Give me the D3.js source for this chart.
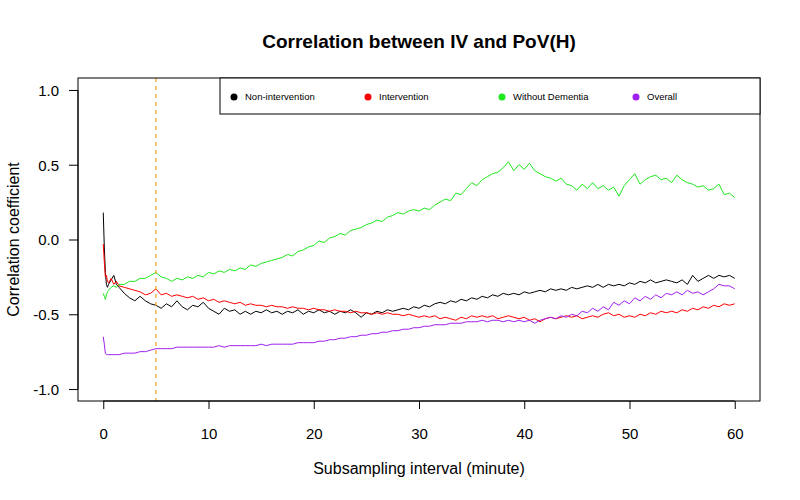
<!DOCTYPE html>
<html>
<head>
<meta charset="utf-8">
<script src="https://cdn.jsdelivr.net/npm/d3@7/dist/d3.min.js"></script>
<style>
  html, body { margin: 0; padding: 0; background: #fff; }
  svg { display: block; font-family: "Liberation Sans", Arial, Helvetica, sans-serif; }
</style>
</head>
<body>
<svg id="chart" width="800" height="500"></svg>
<script>
// ---------------- data ----------------
const chartTitle = "Correlation between IV and PoV(H)";
const xLabel = "Subsampling interval (minute)";
const yLabel = "Correlation coefficient";
const xTicks = [0, 10, 20, 30, 40, 50, 60];
const yTicks = [-1.0, -0.5, 0.0, 0.5, 1.0];
const cutoffInterval = 5;

const seriesNames = ["Non-intervention", "Intervention", "Without Dementia", "Overall"];
const seriesColors = ["#000000", "#ff0000", "#1ee81e", "#a020f0"];

const intervals = [0, 0.1, 0.2, 0.3, 0.4, 0.5, 0.75, 1, 1.25, 1.5,
  2, 2.5, 3, 3.5, 4, 4.5, 5, 5.5, 6, 6.5, 7, 7.5, 8, 8.5, 9, 9.5,
  10, 10.5, 11, 11.5, 12, 12.5, 13, 13.5, 14, 14.5, 15, 15.5, 16, 16.5, 17, 17.5, 18, 18.5, 19, 19.5,
  20, 20.5, 21, 21.5, 22, 22.5, 23, 23.5, 24, 24.5, 25, 25.5, 26, 26.5, 27, 27.5, 28, 28.5, 29, 29.5,
  30, 30.5, 31, 31.5, 32, 32.5, 33, 33.5, 34, 34.5, 35, 35.5, 36, 36.5, 37, 37.5, 38, 38.5, 39, 39.5,
  40, 40.5, 41, 41.5, 42, 42.5, 43, 43.5, 44, 44.5, 45, 45.5, 46, 46.5, 47, 47.5, 48, 48.5, 49, 49.5,
  50, 50.5, 51, 51.5, 52, 52.5, 53, 53.5, 54, 54.5, 55, 55.5, 56, 56.5, 57, 57.5, 58, 58.5, 59, 59.5, 60];

const nonIntervention = [0.18, -0.05, -0.22, -0.30, -0.32, -0.30, -0.27, -0.24, -0.30, -0.32,
  -0.36, -0.39, -0.41, -0.38, -0.41, -0.43, -0.44, -0.46, -0.43, -0.45, -0.41, -0.45, -0.47, -0.44, -0.45, -0.42,
  -0.46, -0.48, -0.50, -0.46, -0.48, -0.47, -0.50, -0.48, -0.50, -0.48, -0.49, -0.47, -0.49, -0.48, -0.50, -0.48, -0.49, -0.47, -0.50, -0.48,
  -0.49, -0.47, -0.49, -0.48, -0.50, -0.48, -0.49, -0.47, -0.49, -0.52, -0.49, -0.50, -0.48, -0.49, -0.47, -0.48, -0.47, -0.46, -0.47, -0.45,
  -0.46, -0.44, -0.45, -0.43, -0.42, -0.43, -0.41, -0.42, -0.40, -0.41, -0.39, -0.40, -0.38, -0.39, -0.37, -0.38, -0.36, -0.37, -0.36, -0.37,
  -0.35, -0.36, -0.35, -0.34, -0.35, -0.33, -0.34, -0.33, -0.34, -0.32, -0.33, -0.32, -0.31, -0.32, -0.30, -0.32, -0.30, -0.31, -0.30, -0.31,
  -0.29, -0.30, -0.28, -0.29, -0.27, -0.29, -0.28, -0.27, -0.28, -0.29, -0.27, -0.30, -0.24, -0.28, -0.26, -0.24, -0.26, -0.24, -0.25, -0.24, -0.26];

const intervention = [-0.03, -0.15, -0.25, -0.24, -0.28, -0.29, -0.26, -0.30, -0.28, -0.31,
  -0.32, -0.33, -0.34, -0.35, -0.37, -0.36, -0.33, -0.37, -0.36, -0.38, -0.37, -0.38, -0.39, -0.38, -0.40, -0.39,
  -0.41, -0.40, -0.42, -0.41, -0.42, -0.43, -0.42, -0.44, -0.43, -0.44, -0.44, -0.45, -0.44, -0.45, -0.45, -0.46, -0.45, -0.46, -0.46, -0.47,
  -0.46, -0.47, -0.47, -0.48, -0.47, -0.48, -0.48, -0.49, -0.48, -0.49, -0.49, -0.50, -0.49, -0.50, -0.49, -0.50, -0.50, -0.51, -0.50, -0.51,
  -0.52, -0.51, -0.52, -0.51, -0.53, -0.52, -0.53, -0.54, -0.52, -0.53, -0.51, -0.52, -0.51, -0.52, -0.51, -0.53, -0.52, -0.51, -0.52, -0.53,
  -0.52, -0.54, -0.53, -0.55, -0.53, -0.52, -0.53, -0.52, -0.51, -0.52, -0.51, -0.53, -0.52, -0.51, -0.52, -0.50, -0.49, -0.51, -0.50, -0.52,
  -0.51, -0.52, -0.50, -0.51, -0.49, -0.50, -0.48, -0.49, -0.48, -0.49, -0.47, -0.48, -0.46, -0.47, -0.45, -0.46, -0.44, -0.45, -0.43, -0.44, -0.43];

const withoutDementia = [-0.36, -0.38, -0.40, -0.37, -0.35, -0.34, -0.32, -0.31, -0.32, -0.30,
  -0.30, -0.28, -0.28, -0.26, -0.26, -0.24, -0.22, -0.25, -0.26, -0.28, -0.26, -0.27, -0.25, -0.26, -0.24, -0.25,
  -0.22, -0.23, -0.21, -0.22, -0.20, -0.21, -0.19, -0.20, -0.17, -0.18, -0.16, -0.15, -0.14, -0.13, -0.12, -0.10, -0.11, -0.08, -0.07, -0.05,
  -0.04, -0.01, -0.02, 0.01, 0.02, 0.04, 0.03, 0.06, 0.07, 0.08, 0.10, 0.11, 0.13, 0.12, 0.15, 0.16, 0.18, 0.17, 0.19, 0.20,
  0.19, 0.21, 0.20, 0.23, 0.25, 0.27, 0.26, 0.31, 0.30, 0.34, 0.38, 0.36, 0.40, 0.42, 0.44, 0.45, 0.48, 0.52, 0.46, 0.50,
  0.47, 0.51, 0.46, 0.44, 0.42, 0.41, 0.39, 0.41, 0.37, 0.36, 0.33, 0.37, 0.34, 0.38, 0.34, 0.36, 0.33, 0.35, 0.29, 0.36,
  0.40, 0.44, 0.37, 0.40, 0.42, 0.43, 0.40, 0.41, 0.38, 0.43, 0.40, 0.38, 0.37, 0.35, 0.36, 0.33, 0.34, 0.37, 0.30, 0.31, 0.28];

const overall = [-0.65, -0.70, -0.76, -0.77, -0.77, -0.77, -0.77, -0.77, -0.77, -0.77,
  -0.76, -0.76, -0.76, -0.75, -0.75, -0.74, -0.73, -0.73, -0.73, -0.73, -0.72, -0.72, -0.72, -0.72, -0.72, -0.72,
  -0.72, -0.72, -0.71, -0.72, -0.71, -0.71, -0.71, -0.71, -0.71, -0.71, -0.70, -0.71, -0.70, -0.70, -0.70, -0.70, -0.70, -0.69, -0.69, -0.69,
  -0.69, -0.68, -0.68, -0.67, -0.67, -0.66, -0.66, -0.65, -0.65, -0.64, -0.64, -0.63, -0.63, -0.62, -0.62, -0.61, -0.61, -0.60, -0.60, -0.59,
  -0.59, -0.58, -0.58, -0.57, -0.57, -0.57, -0.56, -0.56, -0.56, -0.55, -0.55, -0.55, -0.54, -0.55, -0.54, -0.54, -0.55, -0.54, -0.55, -0.54,
  -0.55, -0.54, -0.56, -0.54, -0.53, -0.52, -0.53, -0.51, -0.52, -0.50, -0.51, -0.48, -0.49, -0.46, -0.48, -0.45, -0.47, -0.42, -0.44, -0.41,
  -0.43, -0.39, -0.41, -0.38, -0.40, -0.37, -0.39, -0.36, -0.37, -0.35, -0.37, -0.34, -0.36, -0.35, -0.37, -0.35, -0.33, -0.30, -0.31, -0.31, -0.33];

const seriesValues = [nonIntervention, intervention, withoutDementia, overall];

// ---------------- drawing ----------------
const plot = { left: 78, right: 760, top: 78, bottom: 401 };
const svg = d3.select("#chart");
const FONT = "'Liberation Sans', Arial, Helvetica, sans-serif";

// R-style 4% axis extension
const xScale = d3.scaleLinear().domain([-2.4, 62.4]).range([plot.left, plot.right]);
const yScale = d3.scaleLinear().domain([-1.08, 1.08]).range([plot.bottom, plot.top]);

svg.append("clipPath").attr("id", "clip").append("rect")
  .attr("x", plot.left).attr("y", plot.top)
  .attr("width", plot.right - plot.left).attr("height", plot.bottom - plot.top);

const line = d3.line().x(d => xScale(d[0])).y(d => yScale(d[1]));
const linesG = svg.append("g").attr("clip-path", "url(#clip)");
seriesValues.forEach((vals, i) => {
  linesG.append("path")
    .datum(intervals.map((x, j) => [x, vals[j]]))
    .attr("d", line)
    .attr("fill", "none")
    .attr("stroke", seriesColors[i])
    .attr("stroke-width", 1)
    .attr("stroke-linejoin", "round");
});

// vertical dashed cutoff line
svg.append("line")
  .attr("x1", xScale(cutoffInterval)).attr("x2", xScale(cutoffInterval))
  .attr("y1", plot.top).attr("y2", plot.bottom)
  .attr("stroke", "#f0a020").attr("stroke-width", 1.2)
  .attr("stroke-dasharray", "4,4");

// axes
const xAxis = d3.axisBottom(xScale).tickValues(xTicks).tickFormat(d3.format("d"))
  .tickSize(8).tickSizeOuter(0);
const gx = svg.append("g").attr("transform", `translate(0,${plot.bottom})`).call(xAxis);
gx.select(".domain").attr("d", `M${xScale(xTicks[0])},0H${xScale(xTicks[xTicks.length - 1])}`).attr("stroke", "#000");
gx.selectAll(".tick line").attr("stroke", "#000");
gx.selectAll(".tick text").attr("font-size", 15).attr("fill", "#000")
  .attr("font-family", FONT).attr("dy", "0.71em").attr("y", 27);

const yAxis = d3.axisLeft(yScale).tickValues(yTicks).tickFormat(d3.format(".1f"))
  .tickSize(9).tickSizeOuter(0);
const gy = svg.append("g").attr("transform", `translate(${plot.left},0)`).call(yAxis);
gy.select(".domain").attr("d", `M0,${yScale(yTicks[0])}V${yScale(yTicks[yTicks.length - 1])}`).attr("stroke", "#000");
gy.selectAll(".tick line").attr("stroke", "#000");
gy.selectAll(".tick text").attr("font-size", 15).attr("fill", "#000")
  .attr("font-family", FONT)
  .attr("x", -19).attr("dy", "0.36em")
  .text(d => d3.format(".1f")(d).replace("\u2212", "-"));

// plot box
svg.append("rect")
  .attr("x", plot.left).attr("y", plot.top)
  .attr("width", plot.right - plot.left).attr("height", plot.bottom - plot.top)
  .attr("fill", "none").attr("stroke", "#000").attr("stroke-width", 1);

// title and axis labels
svg.append("text").attr("x", (plot.left + plot.right) / 2).attr("y", 48)
  .attr("text-anchor", "middle").attr("font-size", 19).attr("font-weight", "bold")
  .text(chartTitle);
svg.append("text").attr("x", (plot.left + plot.right) / 2).attr("y", 474)
  .attr("text-anchor", "middle").attr("font-size", 16).text(xLabel);
svg.append("text")
  .attr("transform", `translate(19,${(plot.top + plot.bottom) / 2}) rotate(-90)`)
  .attr("text-anchor", "middle").attr("font-size", 16).text(yLabel);

// legend
const legend = { left: 220, top: plot.top, right: plot.right, bottom: 114 };
svg.append("rect")
  .attr("x", legend.left).attr("y", legend.top)
  .attr("width", legend.right - legend.left).attr("height", legend.bottom - legend.top)
  .attr("fill", "#fff").attr("stroke", "#000").attr("stroke-width", 1);
const legendStep = 134;
const legendY = (legend.top + legend.bottom) / 2 + 1;
seriesNames.forEach((name, i) => {
  const cx = legend.left + 14 + i * legendStep;
  svg.append("circle").attr("cx", cx).attr("cy", legendY).attr("r", 3.5)
    .attr("fill", seriesColors[i]);
  svg.append("text").attr("x", cx + 11).attr("y", legendY).attr("dy", "0.35em")
    .attr("font-size", 9.5).attr("fill", "#000").text(name);
});
</script>
</body>
</html>
